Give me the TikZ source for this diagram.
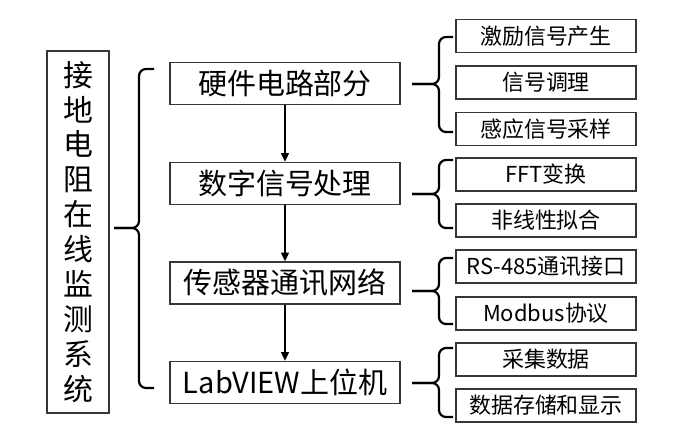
\documentclass[tikz,border=0pt]{standalone}
\usepackage{fontspec}
\setmainfont{Noto Sans CJK SC}
\usetikzlibrary{arrows.meta, positioning, calc}
\definecolor{BoxLine}{RGB}{55,55,55}
\tikzset{
  titlebox/.style={draw=BoxLine, line width=0.8pt, minimum width=1.24cm,
    minimum height=7.24cm, inner sep=0pt, align=center,
    font=\fontsize{17}{19.9}\selectfont},
  mainbox/.style={draw=BoxLine, line width=0.8pt, minimum width=4.6cm,
    minimum height=0.84cm, inner sep=0pt, font=\fontsize{16.5}{20}\selectfont},
  subbox/.style={draw=BoxLine, line width=0.8pt, minimum width=3.6cm,
    minimum height=0.66cm, inner sep=0pt, font=\fontsize{12.5}{15}\selectfont},
  brace/.style={line width=1.25pt, rounded corners=4pt},
  flow/.style={-{Triangle[length=5pt,width=4.5pt]}, line width=0.95pt}
}
\begin{document}
\begin{tikzpicture}[x=0.02cm, y=-0.02cm]
  \useasboundingbox (0,0) rectangle (678,436);
  % Title column
  \node[titlebox] (sys) at (78,232)
    {接\\地\\电\\阻\\在\\线\\监\\测\\系\\统};
  % Main stages
  \node[mainbox] (hw)  at (285,83.5)  {硬件电路部分};
  \node[mainbox] (dsp) at (285,183.5) {数字信号处理};
  \node[mainbox] (net) at (285,283)   {传感器通讯网络};
  \node[mainbox] (pc)  at (285,382.5) {LabVIEW上位机};
  \draw[flow] (hw) -- (dsp);
  \draw[flow] (dsp) -- (net);
  \draw[flow] (net) -- (pc);
  % Sub items
  \node[subbox] (hwa)  at (546,36)    {激励信号产生};
  \node[subbox] (hwb)  at (546,82.5)  {信号调理};
  \node[subbox] (hwc)  at (546,129)   {感应信号采样};
  \node[subbox] (dspa) at (546,174.5) {FFT变换};
  \node[subbox] (dspb) at (546,220.5) {非线性拟合};
  \node[subbox] (neta) at (546,266.5) {RS-485通讯接口};
  \node[subbox] (netb) at (546,313.5) {Modbus协议};
  \node[subbox] (pca)  at (546,359.5) {采集数据};
  \node[subbox] (pcb)  at (546,405.5) {数据存储和显示};
  % Braces on the right
  \foreach \t/\m/\b in {37/84/132, 160/194/228, 258/291/324, 348/383/417}{
    \draw[brace] (453,\t) -- (439,\t) -- (439,\m) -- (412,\m);
    \draw[brace] (453,\b) -- (439,\b) -- (439,\m) -- (412,\m);}
  % Big brace
  \draw[brace] (154,69) -- (139,69) -- (139,228) -- (114,228);
  \draw[brace] (154,388) -- (139,388) -- (139,228) -- (114,228);
\end{tikzpicture}
\end{document}
